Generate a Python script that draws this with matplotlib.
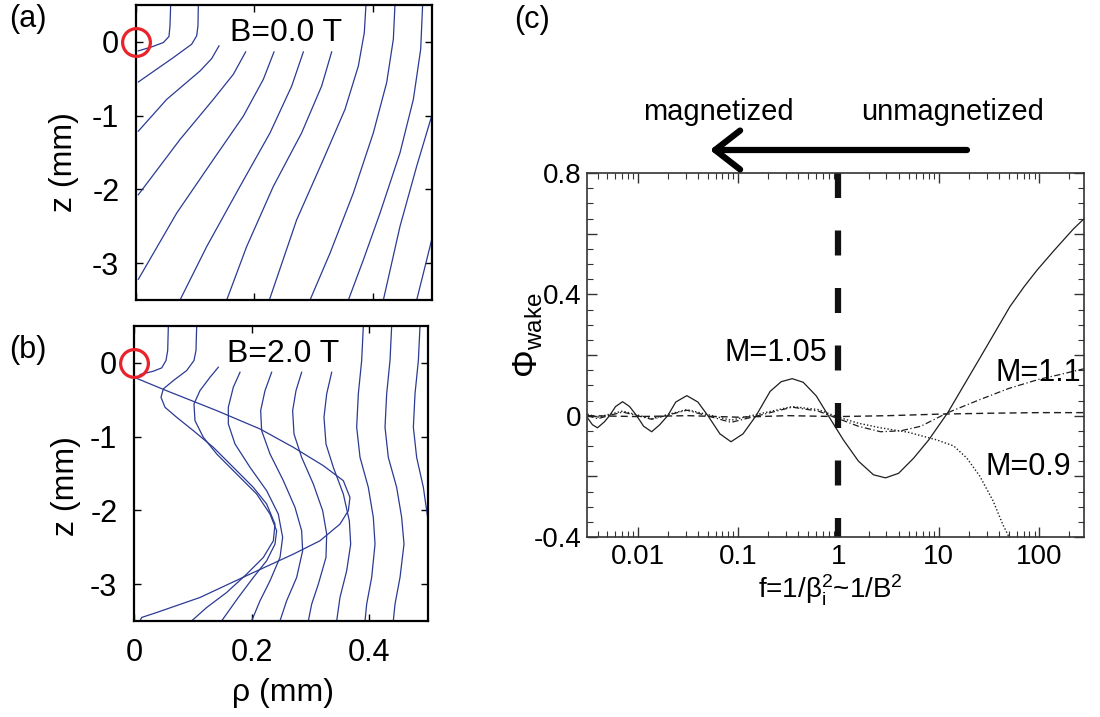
import matplotlib
matplotlib.use('Agg')
import matplotlib.pyplot as plt
from matplotlib.patches import FancyArrowPatch
from matplotlib.ticker import FixedLocator, LogLocator, NullFormatter, FuncFormatter, MultipleLocator

plt.rcParams['font.family'] = ['Liberation Sans', 'DejaVu Sans']
plt.rcParams['mathtext.fontset'] = 'custom'
plt.rcParams['mathtext.rm'] = 'Liberation Sans'
plt.rcParams['mathtext.it'] = 'Liberation Sans:italic'
plt.rcParams['axes.unicode_minus'] = False

# ---- panel (a): B = 0.0 T field lines (rho in mm, z in mm)
a_rho = [
    [0.0586, 0.0574, 0.0557, 0.0462, 0.0265, 0.0039],
    [0.1053, 0.1047, 0.1025, 0.0940, 0.0631, 0.0039],
    [0.1402, 0.1278, 0.1081, 0.0518, 0.0039],
    [0.1852, 0.1644, 0.1306, 0.0743, 0.0039],
    [0.2331, 0.2151, 0.1813, 0.1306, 0.0687, 0.0039],
    [0.2827, 0.2630, 0.2264, 0.1757, 0.1194, 0.0743],
    [0.3305, 0.3136, 0.2798, 0.2320, 0.1869, 0.1532],
    [0.3885, 0.3857, 0.3756, 0.3530, 0.3164, 0.2714, 0.2252],
    [0.4375, 0.4347, 0.4234, 0.4009, 0.3671, 0.3277, 0.2939],
    [0.4842, 0.4809, 0.4685, 0.4459, 0.4122, 0.3840, 0.3587],
    [0.4994, 0.4741, 0.4459, 0.4178],
    [0.4994, 0.4854, 0.4741],
]
a_z = [
    [0.512, 0.218, 0.073, -0.009, -0.068, -0.122],
    [0.512, 0.218, 0.082, -0.032, -0.213, -0.544],
    [-0.054, -0.227, -0.395, -0.780, -1.211],
    [-0.136, -0.440, -0.780, -1.324, -2.073],
    [-0.136, -0.508, -1.007, -1.596, -2.322, -3.220],
    [-0.136, -0.599, -1.234, -1.959, -2.776, -3.501],
    [-0.136, -0.599, -1.234, -1.959, -2.776, -3.501],
    [0.512, 0.127, -0.327, -0.916, -1.596, -2.413, -3.501],
    [0.512, 0.036, -0.553, -1.234, -2.050, -2.866, -3.501],
    [0.512, -0.100, -0.780, -1.506, -2.322, -2.957, -3.501],
    [-1.007, -1.687, -2.503, -3.501],
    [-2.685, -3.138, -3.501],
]

# ---- panel (b): B = 2.0 T field lines
b_rho = [
    [0.0584, 0.0573, 0.0544, 0.0471, 0.0329, 0.0102],
    [0.0, 0.0550, 0.1406, 0.2143, 0.2710, 0.3220, 0.3560, 0.3673, 0.3645, 0.3503,
     0.3163, 0.2710, 0.1973, 0.1122, 0.0385, 0.0130, 0.0102],
    [0.1066, 0.1054, 0.1020, 0.0896, 0.0669, 0.0499, 0.0459, 0.0527, 0.0726, 0.1009,
     0.1349, 0.1689, 0.2029, 0.2256, 0.2398, 0.2370, 0.2200, 0.1916, 0.1576, 0.1236, 0.0981],
    [0.1434, 0.1293, 0.1122, 0.1020, 0.1037, 0.1179, 0.1406, 0.1746, 0.2086, 0.2313,
     0.2426, 0.2398, 0.2256, 0.2029, 0.1774, 0.1491],
    [0.1803, 0.1689, 0.1604, 0.1604, 0.1718, 0.1973, 0.2256, 0.2454, 0.2528, 0.2483,
     0.2313, 0.2143, 0.2001],
    [0.2341, 0.2228, 0.2154, 0.2171, 0.2313, 0.2540, 0.2738, 0.2851, 0.2868, 0.2766,
     0.2596, 0.2483],
    [0.2851, 0.2755, 0.2698, 0.2721, 0.2851, 0.3050, 0.3209, 0.3277, 0.3265, 0.3135,
     0.3022, 0.2965],
    [0.3362, 0.3277, 0.3231, 0.3265, 0.3390, 0.3560, 0.3662, 0.3685, 0.3617, 0.3503, 0.3447],
    [0.3900, 0.3872, 0.3815, 0.3787, 0.3844, 0.3985, 0.4070, 0.4099, 0.4042, 0.3957, 0.3929],
    [0.4382, 0.4354, 0.4297, 0.4269, 0.4325, 0.4467, 0.4552, 0.4592, 0.4524, 0.4439, 0.4410],
    [0.4864, 0.4836, 0.4779, 0.4751, 0.4807, 0.4921, 0.4994, 0.5],
]
b_z = [
    [0.498, 0.167, 0.032, -0.068, -0.113, -0.158],
    [-0.195, -0.376, -0.647, -0.896, -1.145, -1.394, -1.597, -1.824, -2.005, -2.186,
     -2.412, -2.593, -2.864, -3.181, -3.385, -3.452, -3.498],
    [0.498, 0.167, 0.032, -0.104, -0.240, -0.353, -0.466, -0.602, -0.738, -0.919,
     -1.145, -1.416, -1.688, -1.914, -2.186, -2.412, -2.638, -2.864, -3.113, -3.317, -3.498],
    [-0.059, -0.195, -0.376, -0.557, -0.783, -1.009, -1.235, -1.507, -1.778, -2.050,
     -2.276, -2.457, -2.683, -2.910, -3.181, -3.498],
    [-0.127, -0.330, -0.602, -0.828, -1.100, -1.416, -1.733, -2.050, -2.367, -2.638,
     -2.955, -3.226, -3.498],
    [-0.127, -0.376, -0.647, -0.919, -1.235, -1.597, -1.959, -2.276, -2.548, -2.910,
     -3.226, -3.498],
    [-0.127, -0.376, -0.647, -0.964, -1.281, -1.643, -2.005, -2.321, -2.638, -3.000,
     -3.271, -3.498],
    [-0.127, -0.421, -0.738, -1.100, -1.416, -1.778, -2.140, -2.457, -2.819, -3.181, -3.498],
    [0.498, 0.032, -0.421, -0.873, -1.281, -1.688, -2.095, -2.457, -2.910, -3.271, -3.498],
    [0.498, 0.032, -0.421, -0.873, -1.281, -1.688, -2.095, -2.457, -2.910, -3.271, -3.498],
    [0.498, 0.032, -0.421, -0.873, -1.281, -1.688, -2.095, -2.457],
]

# ---- panel (c): wake potential vs f (given as log10 f)
m105_logf = [-2.50, -2.45, -2.40, -2.33, -2.28, -2.22, -2.15, -2.08, -2.01, -1.94, -1.86,
             -1.78, -1.70, -1.62, -1.51, -1.40, -1.30, -1.18, -1.07, -0.95, -0.82, -0.68,
             -0.57, -0.46, -0.35, -0.22, -0.10, 0.05, 0.20, 0.35, 0.47, 0.60, 0.75, 0.90,
             1.09, 1.25, 1.41, 1.56, 1.71, 1.85, 1.98, 2.15, 2.34, 2.45]
m105_phi = [-0.007, -0.030, -0.040, -0.020, 0.000, 0.030, 0.046, 0.030, 0.000, -0.035,
            -0.053, -0.030, 0.000, 0.045, 0.066, 0.045, 0.000, -0.060, -0.086, -0.060,
            0.000, 0.080, 0.112, 0.122, 0.110, 0.065, 0.000, -0.080, -0.150, -0.195,
            -0.205, -0.190, -0.140, -0.080, 0.010, 0.100, 0.190, 0.275, 0.360, 0.425,
            0.480, 0.545, 0.615, 0.650]
m09_logf = [-2.50, -2.40, -2.15, -1.86, -1.51, -1.07, -0.80, -0.46, -0.20, 0.0, 0.20,
            0.42, 0.70, 0.98, 1.15, 1.28, 1.41, 1.54, 1.64, 1.70]
m09_phi = [0.005, -0.005, 0.015, -0.010, 0.020, -0.015, 0.005, 0.030, 0.020, -0.005,
           -0.025, -0.040, -0.055, -0.080, -0.100, -0.140, -0.200, -0.280, -0.360, -0.400]
m11_logf = [-2.50, -2.40, -2.15, -1.86, -1.51, -1.07, -0.80, -0.46, -0.20, 0.0, 0.20,
            0.42, 0.62, 0.82, 1.09, 1.41, 1.70, 2.00, 2.20, 2.45]
m11_phi = [0.000, -0.010, 0.012, -0.012, 0.018, -0.022, 0.000, 0.028, 0.015, -0.010,
           -0.035, -0.053, -0.050, -0.035, 0.010, 0.053, 0.090, 0.120, 0.135, 0.155]
flat_logf = [-2.50, -2.0, -1.5, -1.0, -0.5, 0.0, 0.5, 1.0, 1.5, 2.0, 2.45]
flat_phi = [0.000, -0.003, 0.000, -0.005, 0.000, -0.003, 0.000, 0.005, 0.008, 0.010, 0.010]

xticks_c = [0.01, 0.1, 1, 10, 100]
xticklabels_c = ['0.01', '0.1', '1', '10', '100']

W, H = 1100, 717
fig = plt.figure(figsize=(11, 7.17), dpi=100)


def box(left, top, right, bottom):
    return [left / W, 1 - bottom / H, (right - left) / W, (bottom - top) / H]


def ftext(px, py, s, **kw):
    fig.text(px / W, 1 - py / H, s, **kw)


blue = '#2b3a93'
red = '#e8232a'


def field_panel(rect, rhos, zs, title, show_x):
    ax = fig.add_axes(rect)
    for r, z in zip(rhos, zs):
        ax.plot(r, z, color=blue, lw=0.9)
    ax.plot([0], [0], 'o', ms=20, mfc='none', mec=red, mew=2.3, clip_on=False, zorder=5)
    ax.set_xlim(0, 0.5)
    ax.set_ylim(-3.5, 0.5)
    ax.set_xticks([0, 0.2, 0.4])
    ax.set_yticks([0, -1, -2, -3])
    ax.set_yticklabels(['0', '-1', '-2', '-3'])
    if show_x:
        ax.set_xticklabels(['0', '0.2', '0.4'])
    else:
        ax.set_xticklabels([])
    ax.tick_params(direction='in', top=True, right=True, length=5, width=1,
                   labelsize=22, pad=12)
    for s in ax.spines.values():
        s.set_linewidth(1.6)
    ax.text(0.507, 0.905, title, fontsize=23, ha='center', va='center',
            transform=ax.transAxes)
    return ax


ax_a = field_panel(box(136, 5, 432, 300), a_rho, a_z, 'B=0.0 T', False)
ax_b = field_panel(box(134, 326, 428, 621), b_rho, b_z, 'B=2.0 T', True)

ftext(64, 162, 'z (mm)', fontsize=23, rotation=90, ha='center', va='center')
ftext(66, 486, 'z (mm)', fontsize=23, rotation=90, ha='center', va='center')
ftext(283, 693, 'ρ (mm)', fontsize=23, ha='center', va='center')
ftext(28, 19, '(a)', fontsize=22, ha='center', va='center')
ftext(28, 350, '(b)', fontsize=22, ha='center', va='center')
ftext(532, 20, '(c)', fontsize=22, ha='center', va='center')

# ---- panel (c)
ax_c = fig.add_axes(box(587, 173, 1084, 537))
ink = '#1e1e1e'
ax_c.plot([10 ** v for v in flat_logf], flat_phi, color=ink, lw=1.0, ls=(0, (5, 3)))
ax_c.plot([10 ** v for v in m11_logf], m11_phi, color=ink, lw=0.9, ls=(0, (5, 2, 1, 2)))
ax_c.plot([10 ** v for v in m09_logf], m09_phi, color=ink, lw=1.0, ls=(0, (1, 1.5)))
ax_c.plot([10 ** v for v in m105_logf], m105_phi, color=ink, lw=0.9)
ax_c.plot([1, 1], [0.8, -0.4], color='#111111', lw=4.5, dashes=(4.0, 5.2),
          solid_capstyle='butt', dash_capstyle='butt')
ax_c.set_xscale('log')
ax_c.set_xlim(0.00313, 280)
ax_c.set_ylim(-0.4, 0.8)
ax_c.xaxis.set_major_locator(FixedLocator(xticks_c))
ax_c.set_xticklabels(xticklabels_c)
ax_c.xaxis.set_minor_locator(LogLocator(base=10, subs=range(2, 10), numticks=20))
ax_c.xaxis.set_minor_formatter(NullFormatter())
ax_c.yaxis.set_major_locator(MultipleLocator(0.2))
ax_c.yaxis.set_minor_locator(MultipleLocator(0.05))
ax_c.yaxis.set_major_formatter(FuncFormatter(
    lambda v, p: ('0' if abs(v) < 1e-9 else '%g' % round(v, 1)) if abs(round(v / 0.4) - v / 0.4) < 1e-6 else ''))
ax_c.tick_params(which='both', direction='in', top=True, right=True, labelsize=20, color='#333333')
ax_c.tick_params(which='major', length=7, width=1)
ax_c.tick_params(which='minor', length=4, width=0.8)
ax_c.tick_params(axis='y', pad=4)
ax_c.tick_params(axis='x', pad=5)
for s in ax_c.spines.values():
    s.set_linewidth(1.2)
    s.set_color('#333333')

ax_c.text(0.777, 0.208, 'M=1.05', fontsize=22, ha='right', va='center')
ax_c.text(36.5, 0.142, 'M=1.1', fontsize=22, ha='left', va='center')
ax_c.text(29, -0.168, 'M=0.9', fontsize=22, ha='left', va='center')

ftext(528, 335, r'$\Phi_{\rm wake}$', fontsize=25, rotation=90, ha='center', va='center')
ftext(830, 590, r'f=1/$\mathrm{\beta}_{\rm i}^2$~1/B$^2$', fontsize=20, ha='center', va='center')

ftext(718, 120, 'magnetized', fontsize=21, ha='center', va='baseline')
ftext(953, 120, 'unmagnetized', fontsize=21, ha='center', va='baseline')
arrow = FancyArrowPatch((967 / W, 1 - 150 / H), (710 / W, 1 - 150 / H),
                        transform=fig.transFigure, arrowstyle='->,head_length=0.9,head_width=0.7',
                        mutation_scale=20, lw=4.5, color='black', shrinkA=0, shrinkB=0)
fig.add_artist(arrow)

fig.savefig('out.png', dpi=100)
